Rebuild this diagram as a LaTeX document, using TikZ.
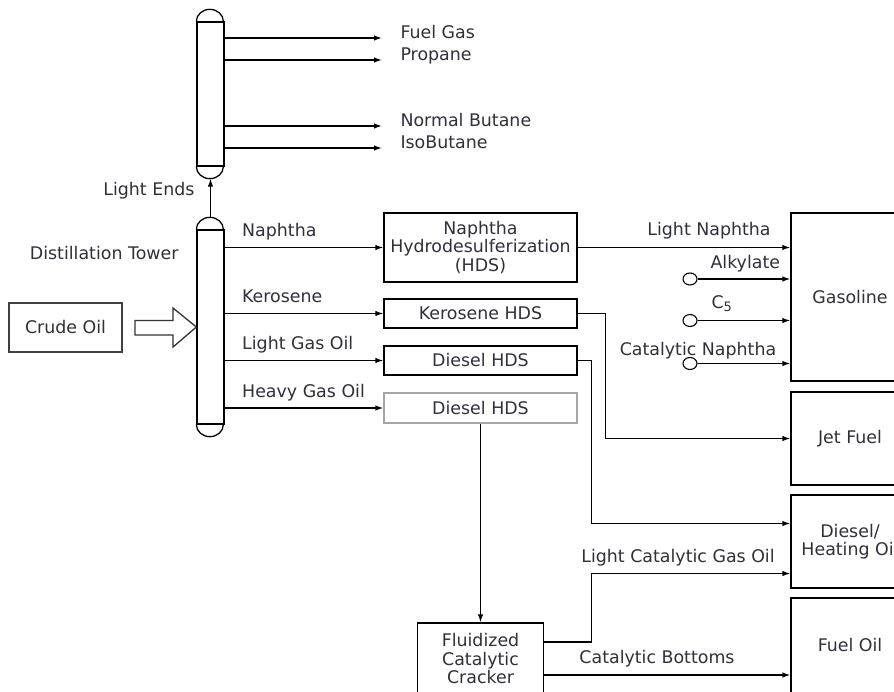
\documentclass[tikz,border=0pt]{standalone}
\usepackage{fontspec}
\setmainfont{DejaVu Sans}
\usetikzlibrary{positioning,arrows.meta,shapes.geometric}
\definecolor{inkgray}{RGB}{48,48,60}
\tikzset{
  flowarrow/.style={-{Latex[length=8pt,width=5.5pt]}, line width=1.3pt},
  plainline/.style={line width=1.3pt},
  column/.style={draw, line width=1.3pt, minimum width=27pt, inner sep=0pt},
  feedbox/.style={draw, line width=1.3pt, draw=black!75, minimum width=113pt, minimum height=49pt, align=center},
  unitbox/.style={draw, line width=1.3pt, minimum width=193pt, minimum height=29pt, inner sep=0pt, align=center},
  prodbox/.style={draw, line width=1.3pt, minimum width=118pt, minimum height=93pt, inner sep=0pt, align=center},
  stock/.style={draw, line width=1.1pt, ellipse, minimum width=14pt, minimum height=12pt, inner sep=0pt}
}

\begin{document}
\begin{tikzpicture}[x=1pt, y=-1pt, >=Latex, every node/.style={text=inkgray, font=\fontsize{17.4}{18.5}\selectfont}]
  \fill[white] (0,0) rectangle (894,691);
  \useasboundingbox (0,0) rectangle (894,691);

  \node[column, minimum height=144pt] (lecol) at (210.5,94) {};
  \node[column, minimum height=194pt] (dtcol) at (210.5,327) {};
  \foreach \c in {lecol,dtcol}{
    \draw[plainline] (\c.north west) arc[start angle=180, end angle=0, x radius=13.5pt, y radius=12pt];
    \draw[plainline] (\c.south west) arc[start angle=180, end angle=360, x radius=13.5pt, y radius=12pt];
  }

  \foreach \y/\t [count=\i] in {38/Fuel Gas, 60/Propane, 126/Normal Butane, 148/IsoButane}{
    \node[anchor=base west] (le\i) at (397,\y) {\t};
    \draw[flowarrow] (lecol.east |- le\i.base) -- ([xshift=-15pt]le\i.base west);
  }

  \draw[flowarrow] ([yshift=12pt]dtcol.north) -- ([yshift=-12pt]lecol.south);
  \node[anchor=base east] (lightends) at (198,195) {Light Ends};
  \node[anchor=base east] (dtlabel) at (182,259) {Distillation Tower};

  \node[feedbox] (crude) at (65.5,327.5) {Crude Oil};
  \draw[plainline, draw=black!80, line join=miter] (135,320.5) -- (173,320.5) -- (173,308) -- (dtcol.west)
    -- (173,347) -- (173,335) -- (135,335) -- cycle;

  \node[unitbox, minimum height=69pt] (nhds) at (480.5,247.5) {Naphtha\\Hydrodesulferization\\(HDS)};
  \node[unitbox] (khds) at (480.5,313.5) {Kerosene HDS};
  \node[unitbox] (dhds) at (480.5,360.5) {Diesel HDS};
  \node[unitbox, draw=gray!70, minimum height=30pt] (hhds) at (480.5,408) {Diesel HDS};

  \foreach \b/\t in {nhds/Naphtha, khds/Kerosene, dhds/Light Gas Oil, hhds/Heavy Gas Oil}{
    \draw[flowarrow] (dtcol.east |- \b.west) -- (\b.west);
    \node[anchor=base west] (\b-cut) at ([xshift=14pt,yshift=11pt]dtcol.east |- \b.west) {\t};
  }

  \node[prodbox, minimum height=168pt] (gasoline) at (850,297) {Gasoline};
  \node[prodbox] (jet) at (850,438.5) {Jet Fuel};
  \node[prodbox] (dho) at (850,541.5) {Diesel/\\Heating Oil};
  \node[prodbox, minimum height=95pt] (fueloil) at (850,645.5) {Fuel Oil};

  \draw[flowarrow] (nhds.east) -- (gasoline.west |- nhds.east);
  \node[anchor=base] (lnaph) at (709,235) {Light Naphtha};

  \foreach \y/\n in {279/alky, 320.5/cfive, 363.5/catn}{
    \node[stock] (\n) at (690,\y) {};
    \draw[flowarrow] (\n.east) -- (gasoline.west |- \n.east);
  }
  \node[anchor=base west] (alkylbl) at (707,268) {Alkylate};
  \node[anchor=base west] (cfivelbl) at (708,308) {C\raisebox{-3.5pt}{\fontsize{13}{13}\selectfont 5}};
  \node[anchor=base] (catnlbl) at (698,355) {Catalytic Naphtha};

  \draw[flowarrow] (khds.east) -- ++(28,0) |- (jet.west);
  \draw[flowarrow] (dhds.east) -- ++(14,0) |- ([yshift=18pt]dho.west);

  \node[unitbox, minimum width=126pt, minimum height=72pt] (fcc) at (480.5,659) {Fluidized\\Catalytic\\Cracker};
  \draw[flowarrow] (hhds.south) -- (fcc.north);

  \coordinate (lcgout) at ([yshift=17pt]fcc.east);
  \coordinate (cbout) at ([yshift=-16pt]fcc.east);
  \draw[flowarrow] (lcgout) -- ++(47.5,0) |- ([yshift=-32pt]dho.west);
  \node[anchor=base] (lcgo) at (678,562) {Light Catalytic Gas Oil};
  \draw[flowarrow] (cbout) -- (cbout -| fueloil.west);
  \node[anchor=base] (cbot) at (657,663) {Catalytic Bottoms};
\end{tikzpicture}
\end{document}
